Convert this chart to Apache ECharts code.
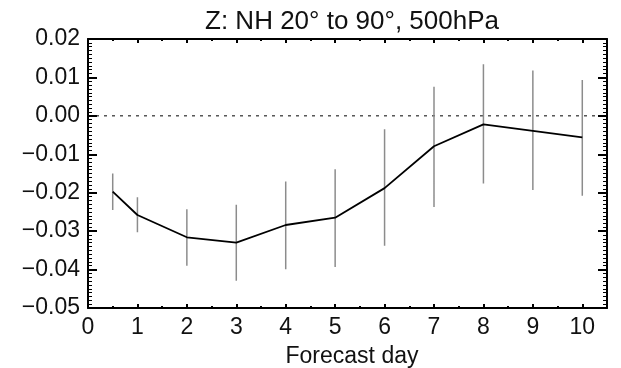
<!DOCTYPE html>
<html>
<head>
<meta charset="utf-8">
<script src="https://cdn.jsdelivr.net/npm/echarts@6/dist/echarts.min.js"></script>
<style>
  html, body { margin: 0; padding: 0; background: #fff; }
  #chart { width: 621px; height: 368px; }
</style>
</head>
<body>
<div id="chart"></div>
<script>
// forecast days and the mean value with its spread
const days = [0.5, 1, 2, 3, 4, 5, 6, 7, 8, 9, 10];
const meanValues = [-0.0197, -0.0258, -0.0316, -0.0330, -0.0284, -0.0265, -0.0188, -0.0079, -0.0022, -0.0039, -0.0056];
const lowValues = [-0.0245, -0.0303, -0.0390, -0.0429, -0.0399, -0.0393, -0.0338, -0.0237, -0.0176, -0.0193, -0.0208];
const highValues = [-0.0150, -0.0212, -0.0243, -0.0231, -0.0171, -0.0139, -0.0035, 0.0076, 0.0134, 0.0118, 0.0093];
const xMin = 0;
const xMax = 10.5;
const zeroLine = 0;

const font = 'Liberation Sans, Arial, Helvetica, sans-serif';

// vertical spread segments, broken between days
const spreadData = [];
days.forEach(function (d, i) {
    spreadData.push([d, lowValues[i]]);
    spreadData.push([d, highValues[i]]);
    spreadData.push([d, '-']);
});

const chart = echarts.init(document.getElementById('chart'));

const options = {
    animation: false,
    textStyle: { fontFamily: font },
    title: [
        {
            text: 'Z: NH 20\u00b0 to 90\u00b0, 500hPa',
            left: 347,
            textAlign: 'center',
            top: 4,
            textStyle: { fontFamily: font, fontSize: 26, fontWeight: 'normal', color: '#111' }
        },
        {
            text: 'Forecast day',
            left: 347,
            textAlign: 'center',
            top: 340,
            textStyle: { fontFamily: font, fontSize: 23, fontWeight: 'normal', color: '#111' }
        }
    ],
    grid: { left: 88, right: 14, top: 39, bottom: 60, outerBoundsMode: 'none' },
    xAxis: [
        {
            type: 'value', position: 'bottom', min: xMin, max: xMax, interval: 1,
            splitLine: { show: false },
            axisLine: { show: true, onZero: false, lineStyle: { color: '#000', width: 2 } },
            axisTick: { show: true, inside: true, length: 4, lineStyle: { color: '#000', width: 2 } },
            minorTick: { show: true, splitNumber: 2, length: 2, lineStyle: { color: '#000', width: 2 } },
            axisLabel: {
                fontSize: 23, color: '#111',
                formatter: function (v) { return Number.isInteger(v) ? String(v) : ''; }
            }
        },
        {
            type: 'value', position: 'top', min: xMin, max: xMax, interval: 1,
            splitLine: { show: false },
            axisLine: { show: true, onZero: false, lineStyle: { color: '#000', width: 2 } },
            axisTick: { show: true, inside: true, length: 4, lineStyle: { color: '#000', width: 2 } },
            minorTick: { show: true, splitNumber: 2, length: 2, lineStyle: { color: '#000', width: 2 } },
            axisLabel: { show: false }
        }
    ],
    yAxis: [
        {
            type: 'value', position: 'left', min: -0.05, max: 0.02, interval: 0.01,
            splitLine: { show: false },
            axisLine: { show: true, onZero: false, lineStyle: { color: '#000', width: 2 } },
            axisTick: { show: true, inside: true, length: 9, lineStyle: { color: '#000', width: 2 } },
            minorTick: { show: true, splitNumber: 10, length: 4, lineStyle: { color: '#000', width: 1 } },
            axisLabel: {
                fontSize: 23, color: '#111',
                formatter: function (v) {
                    return (v < -1e-9 ? '\u2212' : '') + Math.abs(v).toFixed(2);
                }
            }
        },
        {
            type: 'value', position: 'right', min: -0.05, max: 0.02, interval: 0.01,
            splitLine: { show: false },
            axisLine: { show: true, onZero: false, lineStyle: { color: '#000', width: 2 } },
            axisTick: { show: true, inside: true, length: 9, lineStyle: { color: '#000', width: 2 } },
            minorTick: { show: true, splitNumber: 10, length: 4, lineStyle: { color: '#000', width: 1 } },
            axisLabel: { show: false }
        }
    ],
    series: [
        {
            name: 'zero',
            type: 'line',
            symbol: 'none',
            silent: true,
            data: [[xMin, zeroLine], [xMax, zeroLine]],
            lineStyle: { color: '#000', width: 1, type: [3, 5] }
        },
        {
            name: 'spread',
            type: 'line',
            symbol: 'none',
            silent: true,
            connectNulls: false,
            data: spreadData,
            lineStyle: { color: '#8c8c8c', width: 1.5 }
        },
        {
            name: 'mean',
            type: 'line',
            symbol: 'none',
            data: days.map(function (d, i) { return [d, meanValues[i]]; }),
            lineStyle: { color: '#000', width: 1.8 }
        }
    ]
};

chart.setOption(options);
</script>
</body>
</html>
